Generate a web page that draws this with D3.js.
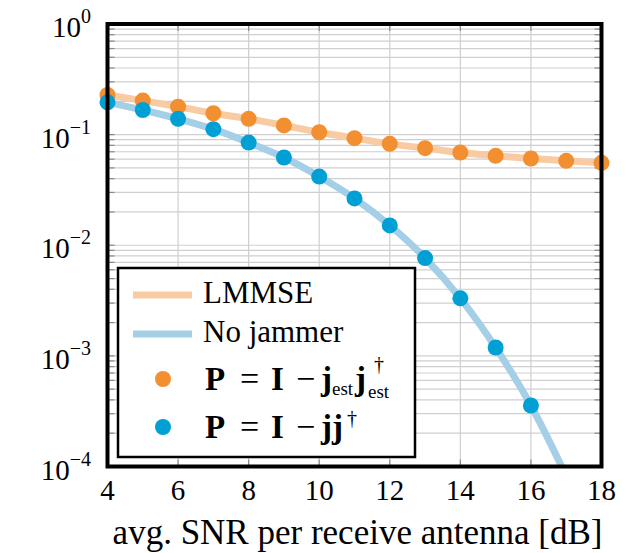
<!DOCTYPE html>
<html>
<head>
<meta charset="utf-8">
<script src="https://cdn.jsdelivr.net/npm/d3@7"></script>
<style>
  html, body { margin: 0; padding: 0; background: #fff; }
  svg { display: block; }
</style>
</head>
<body>
<svg id="chart" width="641" height="553" font-family="'Liberation Serif', Tinos, 'Times New Roman', Times, 'DejaVu Serif', serif"></svg>
<script>
// ---- data ----
const snr = [4, 5, 6, 7, 8, 9, 10, 11, 12, 13, 14, 15, 16, 17, 18];
const lmmseLine = [0.228, 0.203, 0.179, 0.156, 0.139, 0.121, 0.105, 0.0929, 0.0825, 0.0755, 0.0689, 0.0643, 0.0608, 0.058, 0.0556];
const noJammerSnr = [4, 5, 6, 7, 8, 9, 10, 11, 12, 13, 14, 15, 16, 17];
const noJammerLine = [0.196, 0.167, 0.139, 0.112, 0.0848, 0.0621, 0.0418, 0.0265, 0.0151, 0.00766, 0.00331, 0.00119, 0.000356, 0.000082];
const pEstMarkers = [0.228, 0.203, 0.179, 0.156, 0.139, 0.121, 0.105, 0.0929, 0.0825, 0.0755, 0.0689, 0.0643, 0.0608, 0.058, 0.0556];
const pTrueSnr = [4, 5, 6, 7, 8, 9, 10, 11, 12, 13, 14, 15, 16];
const pTrueMarkers = [0.196, 0.167, 0.139, 0.112, 0.0848, 0.0621, 0.0418, 0.0265, 0.0151, 0.00766, 0.00331, 0.00119, 0.000356];
const xTicks = [4, 6, 8, 10, 12, 14, 16, 18];
const yDecades = [0, -1, -2, -3, -4];
const yTickSup = ["0", "\u22121", "\u22122", "\u22123", "\u22124"];
const xLabel = "avg. SNR per receive antenna [dB]";
const legendLabels = ["LMMSE", "No jammer"];

// ---- styles ----
const colLmmse = "#f8cba2";
const colNoJam = "#a5cfe7";
const colPEst = "#f28f31";
const colPTrue = "#00a0d4";

const svg = d3.select("#chart");
const x = d3.scaleLinear().domain([4, 18]).range([107.5, 601.5]);
const y = d3.scaleLog().domain([1e-4, 1]).range([466.5, 24]);
const X0 = x.range()[0], X1 = x.range()[1], Y0 = y.range()[1], Y1 = y.range()[0];

svg.append("defs").append("clipPath").attr("id", "clip")
  .append("rect").attr("x", X0).attr("y", Y0).attr("width", X1 - X0).attr("height", Y1 - Y0);

// grid
const minorVals = [];
for (let e = -4; e < 0; e++) for (let m = 1; m <= 9; m++) minorVals.push(m * Math.pow(10, e));
minorVals.push(1);
const grid = svg.append("g");
grid.selectAll("line.h").data(minorVals).join("line")
  .attr("x1", X0).attr("x2", X1)
  .attr("y1", d => y(d)).attr("y2", d => y(d))
  .attr("stroke", "#cfcfcf").attr("stroke-width", 1.2);
grid.selectAll("line.v").data(xTicks).join("line")
  .attr("x1", d => x(d)).attr("x2", d => x(d))
  .attr("y1", Y0).attr("y2", Y1)
  .attr("stroke", "#cfcfcf").attr("stroke-width", 1.2);

// tick marks (inward)
const ticks = svg.append("g").attr("stroke", "#8a8a8a").attr("stroke-width", 1.2);
minorVals.forEach(v => {
  ticks.append("line").attr("x1", X0).attr("x2", X0 + 7).attr("y1", y(v)).attr("y2", y(v));
  ticks.append("line").attr("x1", X1).attr("x2", X1 - 7).attr("y1", y(v)).attr("y2", y(v));
});
xTicks.forEach(v => {
  ticks.append("line").attr("x1", x(v)).attr("x2", x(v)).attr("y1", Y0).attr("y2", Y0 + 7);
  ticks.append("line").attr("x1", x(v)).attr("x2", x(v)).attr("y1", Y1).attr("y2", Y1 - 7);
});

// lines
const lineGen = d3.line().x(d => x(d[0])).y(d => y(d[1])).curve(d3.curveMonotoneX);
const lines = svg.append("g").attr("clip-path", "url(#clip)");
lines.append("path").datum(snr.map((s, i) => [s, lmmseLine[i]]))
  .attr("d", lineGen).attr("fill", "none").attr("stroke", colLmmse).attr("stroke-width", 7);
lines.append("path").datum(noJammerSnr.map((s, i) => [s, noJammerLine[i]]))
  .attr("d", lineGen).attr("fill", "none").attr("stroke", colNoJam).attr("stroke-width", 7);

// markers
svg.append("g").selectAll("circle").data(snr.map((s, i) => [s, pEstMarkers[i]])).join("circle")
  .attr("cx", d => x(d[0])).attr("cy", d => y(d[1])).attr("r", 8).attr("fill", colPEst);
svg.append("g").selectAll("circle").data(pTrueSnr.map((s, i) => [s, pTrueMarkers[i]])).join("circle")
  .attr("cx", d => x(d[0])).attr("cy", d => y(d[1])).attr("r", 8).attr("fill", colPTrue);

// legend
const lg = svg.append("g");
lg.append("rect").attr("x", 118).attr("y", 268).attr("width", 297).attr("height", 189)
  .attr("fill", "#fff").attr("stroke", "#000").attr("stroke-width", 2.5);
const rows = [295, 334, 379, 427];
lg.append("line").attr("x1", 133).attr("x2", 192).attr("y1", rows[0]).attr("y2", rows[0])
  .attr("stroke", colLmmse).attr("stroke-width", 7);
lg.append("line").attr("x1", 133).attr("x2", 192).attr("y1", rows[1]).attr("y2", rows[1])
  .attr("stroke", colNoJam).attr("stroke-width", 7);
lg.append("circle").attr("cx", 163).attr("cy", rows[2]).attr("r", 8).attr("fill", colPEst);
lg.append("circle").attr("cx", 163).attr("cy", rows[3]).attr("r", 8).attr("fill", colPTrue);
const tx = 203;
const lfs = 31;
lg.append("text").attr("x", tx).attr("y", rows[0] + 7.5).attr("font-size", lfs).text(legendLabels[0]);
lg.append("text").attr("x", tx).attr("y", rows[1] + 7.5).attr("font-size", lfs).text(legendLabels[1]);

// math legend entries, pieces placed like TeX math layout
function piece(t, px, dy, txt, opts) {
  const s = t.append("tspan").attr("x", px).attr("dy", dy).text(txt);
  if (opts && opts.bold) s.attr("font-weight", "bold");
  if (opts && opts.size) s.attr("font-size", opts.size);
  return s;
}
(function () {
  const b = rows[2] + 11; // baseline
  const t = lg.append("text").attr("x", tx).attr("y", b).attr("font-size", 33);
  piece(t, 205, 0, "P", { bold: true });
  piece(t, 240, 0, "=", { size: 34 });
  piece(t, 271, 0, "I", { bold: true });
  piece(t, 296, 0, "\u2212", { size: 34 });
  piece(t, 321, 0, "j", { bold: true });
  piece(t, 332, 5, "est", { size: 19 });
  piece(t, 355, -5, "j", { bold: true });
  piece(t, 368, 8, "est", { size: 19 });
  lg.append("text").attr("x", 374).attr("y", b - 19).attr("font-size", 20).text("\u2020");
})();
(function () {
  const b = rows[3] + 11;
  const t = lg.append("text").attr("x", tx).attr("y", b).attr("font-size", 33);
  piece(t, 205, 0, "P", { bold: true });
  piece(t, 240, 0, "=", { size: 34 });
  piece(t, 271, 0, "I", { bold: true });
  piece(t, 296, 0, "\u2212", { size: 34 });
  piece(t, 321, 0, "jj", { bold: true });
  piece(t, 347, -13, "\u2020", { size: 20 });
})();

// frame
svg.append("rect").attr("x", X0).attr("y", Y0).attr("width", X1 - X0).attr("height", Y1 - Y0)
  .attr("fill", "none").attr("stroke", "#000").attr("stroke-width", 4);

// x tick labels
svg.append("g").selectAll("text").data(xTicks).join("text")
  .attr("x", d => x(d)).attr("y", 500).attr("text-anchor", "middle").attr("font-size", 29)
  .text(d => d);

// y tick labels
yDecades.forEach((e, i) => {
  const t = svg.append("text").attr("x", 91).attr("y", y(Math.pow(10, e)) + 13)
    .attr("text-anchor", "end").attr("font-size", 29);
  t.append("tspan").text("10");
  t.append("tspan").attr("font-size", 20).attr("dy", -14).text(yTickSup[i]);
});

// x axis title
svg.append("text").attr("x", (113 + 602) / 2).attr("y", 544).attr("text-anchor", "middle")
  .attr("font-size", 35).text(xLabel);
</script>
</body>
</html>
